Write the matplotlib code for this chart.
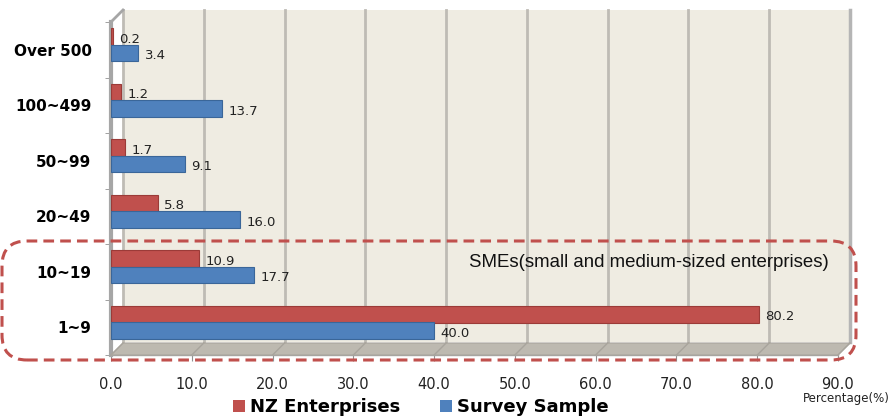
import matplotlib.pyplot as plt
from matplotlib.patches import Patch, Polygon, FancyBboxPatch
from matplotlib.lines import Line2D
import matplotlib.transforms as mtransforms

categories = ['Over 500', '100~499', '50~99', '20~49', '10~19', '1~9']
nz_enterprises = [0.2, 1.2, 1.7, 5.8, 10.9, 80.2]
survey_sample = [3.4, 13.7, 9.1, 16.0, 17.7, 40.0]
xticks = [0, 10, 20, 30, 40, 50, 60, 70, 80, 90]

red = '#C0504D'
blue = '#4F81BD'
wall = '#EFECE2'
floor = '#BDB9B0'
grid = '#BEBBB4'

fig = plt.figure(figsize=(8.92, 4.2), dpi=100)
ax = fig.add_axes([111 / 892, 65 / 420, 727 / 892, 333 / 420])
ax.set_facecolor('none')
ax.set_xlim(0, 90)
ax.set_ylim(5.49, -0.5)
y0, y1 = ax.get_ylim()

# back wall shifted up/right to fake the 3d look
back = mtransforms.offset_copy(ax.transData, fig, x=12, y=12, units='dots')
ax.add_patch(Polygon([(0, y0), (90, y0), (90, y1), (0, y1)], closed=True,
                     transform=back, facecolor=wall, edgecolor='none',
                     clip_on=False, zorder=0))
for x in xticks:
    ax.plot([x, x], [y0, y1], transform=back, color=grid, lw=2,
            clip_on=False, zorder=0.5)
ax.plot([90, 90], [y0, y1], transform=back, color='#B5B5B5', lw=2.5,
        clip_on=False, zorder=0.5)

# floor
inv = fig.transFigure.inverted()
fl_pts = [ax.transData.transform((0, y0)), ax.transData.transform((90, y0)),
          back.transform((90, y0)), back.transform((0, y0))]
fl_pts = [inv.transform(p) for p in fl_pts]
fig.patches.append(Polygon(fl_pts, closed=True, transform=fig.transFigure,
                           facecolor=floor, edgecolor='#A9A59D', lw=0.8, zorder=0))
for x in xticks:
    p0 = inv.transform(ax.transData.transform((x, y0)))
    p1 = inv.transform(back.transform((x, y0)))
    fig.add_artist(Line2D([p0[0], p1[0]], [p0[1], p1[1]], transform=fig.transFigure,
                          color='#A8A49C', lw=1))

# left wall top edge
p0 = inv.transform(ax.transData.transform((0, y1)))
p1 = inv.transform(back.transform((0, y1)))
fig.add_artist(Line2D([p0[0], p1[0]], [p0[1], p1[1]], transform=fig.transFigure,
                      color='#A6A6A6', lw=2))

pos = list(range(len(categories)))
h = 0.3
red_y = [p - 0.235 for p in pos]
blue_y = [p + 0.06 for p in pos]
ax.barh(red_y, nz_enterprises, height=h, color=red, edgecolor='#9B3B38',
        lw=0.8, zorder=3)
ax.barh(blue_y, survey_sample, height=h, color=blue, edgecolor='#3A6699',
        lw=0.8, zorder=3)
for yy, v in zip(red_y, nz_enterprises):
    ax.text(v + 0.8, yy + 0.05, f'{v:.1f}', va='center', ha='left',
            fontsize=9.5, color='#222222', zorder=4)
for yy, v in zip(blue_y, survey_sample):
    ax.text(v + 0.8, yy + 0.05, f'{v:.1f}', va='center', ha='left',
            fontsize=9.5, color='#222222', zorder=4)

ax.set_yticks(pos)
ax.set_yticklabels(categories, fontsize=11, fontweight='bold')
ax.set_yticks([p + 0.5 for p in [-1] + pos], minor=True)
ax.tick_params(axis='y', which='major', length=0, pad=14)
ax.tick_params(axis='y', which='minor', length=4, color='#909090', direction='out')
ax.set_xticks(xticks)
ax.set_xticklabels([f'{x:.1f}' for x in xticks], fontsize=10.5, color='#222222')
ax.tick_params(axis='x', length=4, color='#909090', pad=12)

for s in ['top', 'right']:
    ax.spines[s].set_visible(False)
ax.spines['left'].set_color('#A6A6A6')
ax.spines['left'].set_linewidth(3)
ax.spines['bottom'].set_color('#A6A6A6')
ax.spines['bottom'].set_linewidth(1)

fig.text(0.929, 0.376, 'SMEs(small and medium-sized enterprises)',
         ha='right', va='center', fontsize=13.4,
         family='Liberation Sans', color='#111111')
fig.text(0.998, 0.052, 'Percentage(%)', ha='right', va='center', fontsize=8.5,
         color='#222222')

box = FancyBboxPatch((0.02, 0.60), 8.54, 1.19,
                     boxstyle='round,pad=0,rounding_size=0.25',
                     transform=fig.dpi_scale_trans, facecolor='none',
                     edgecolor=red, lw=2.2, linestyle=(0, (3.5, 2)), zorder=10)
fig.patches.append(box)

handles = [Patch(facecolor=red, label='NZ Enterprises'),
           Patch(facecolor=blue, label='Survey Sample')]
fig.legend(handles=handles, loc='center', bbox_to_anchor=(0.472, 0.03), ncol=2,
           frameon=False, prop={'size': 13, 'weight': 'bold'},
           handlelength=0.65, handleheight=0.65, handletextpad=0.3,
           columnspacing=2.2)

fig.savefig('out.png', dpi=100, facecolor='white')
